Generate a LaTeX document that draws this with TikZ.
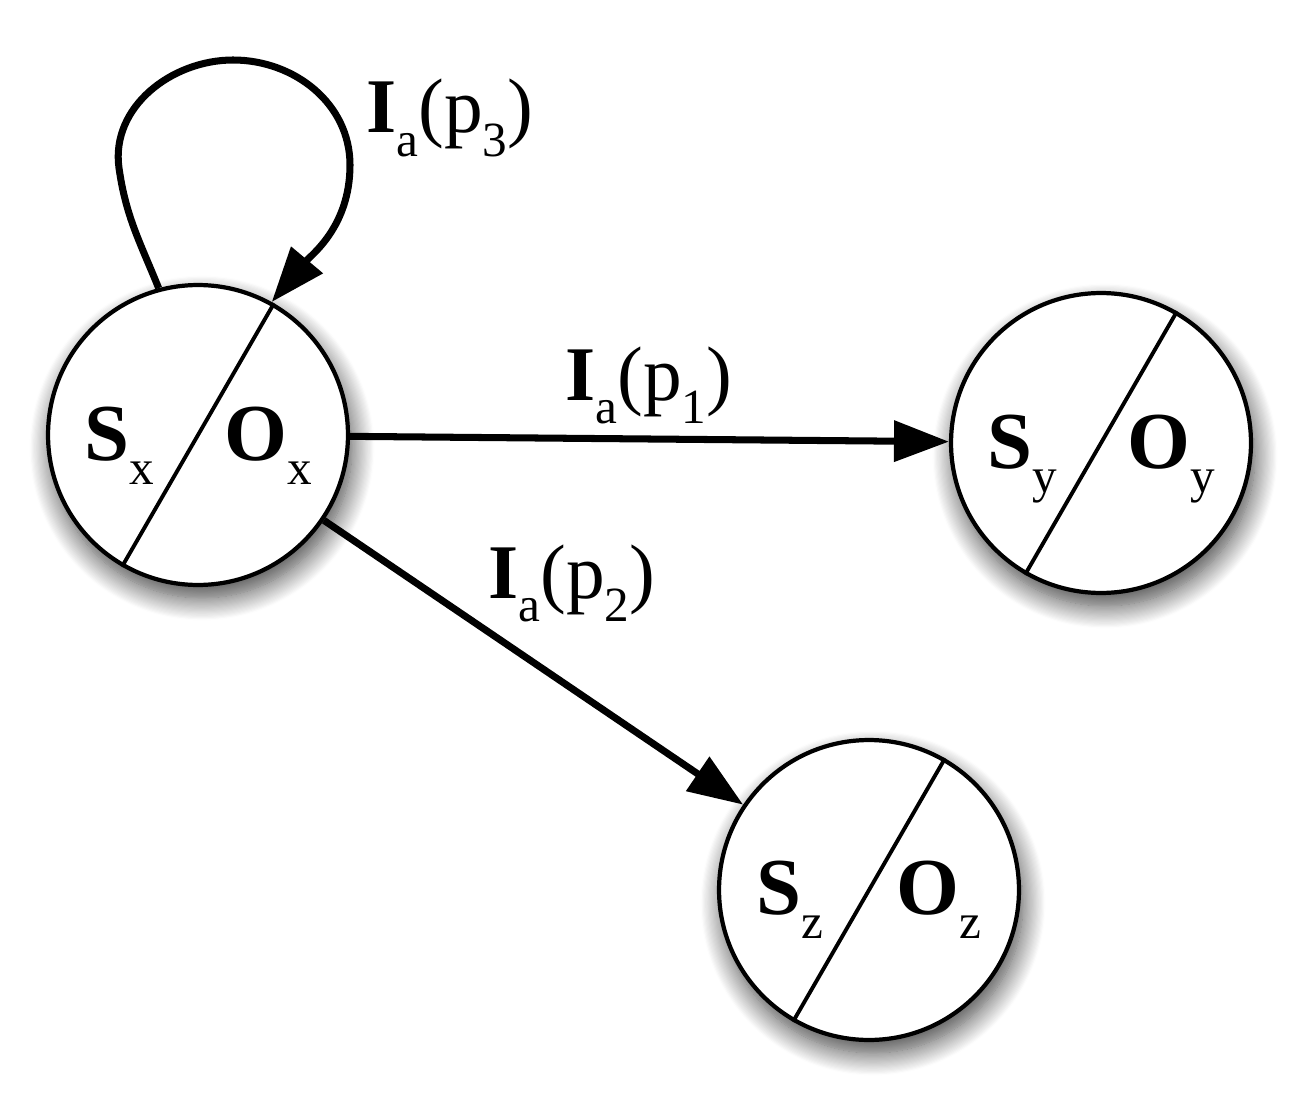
\documentclass[tikz,border=0pt]{standalone}
\usepackage{fontspec}
\setmainfont{Liberation Serif}
\usetikzlibrary{arrows.meta,shadows.blur}
\newcommand{\mysub}[1]{\raisebox{-0.3em}{\fontsize{28}{28}\selectfont #1}}
\begin{document}
\begin{tikzpicture}[x=0.02cm,y=0.02cm,
  state/.style={circle, draw, line width=2.4pt, fill=white, minimum size=6.0cm, inner sep=0pt,
    blur shadow={shadow xshift=0.08cm, shadow yshift=-0.26cm, shadow blur radius=0.45cm, shadow blur steps=20, shadow opacity=75}},
  divider/.style={line width=2.2pt},
  lab/.style={anchor=base, inner sep=0pt, font=\fontsize{44}{44}\selectfont},
  slab/.style={anchor=base, inner sep=0pt, font=\fontsize{46}{46}\selectfont},
  edge/.style={line width=4pt, -{Triangle[length=1.1cm,width=0.8cm]}}]
\useasboundingbox (0,0) rectangle (1300,-1104);

\node[state] (X) at (198,-435) {};
\node[state] (Y) at (1101,-443) {};
\node[state] (Z) at (869,-890) {};

\draw[divider] (X.60) -- (X.240);
\draw[divider] (Y.60) -- (Y.240);
\draw[divider] (Z.60) -- (Z.240);

\node[slab] (sx) at ([shift={(-79,-25)}]X.center) {{\bfseries S}\mysub{x}};
\node[slab] (ox) at ([shift={(70,-25)}]X.center) {{\bfseries O}\mysub{x}};
\node[slab] (sy) at ([shift={(-79,-25)}]Y.center) {{\bfseries S}\mysub{y}};
\node[slab] (oy) at ([shift={(70,-25)}]Y.center) {{\bfseries O}\mysub{y}};
\node[slab] (sz) at ([shift={(-79,-24)}]Z.center) {{\bfseries S}\mysub{z}};
\node[slab] (oz) at ([shift={(70,-24)}]Z.center) {{\bfseries O}\mysub{z}};

\draw[edge] (X) -- (Y);
\draw[edge] (X) -- (Z);
\draw[edge] (X.105) to[out=112,in=-82] (119,-168) to[out=98,in=180] (233,-60)
  to[out=0,in=90] (350,-165) to[out=-90,in=50] (X.61);

\node[lab] (l1) at (649,-400) {{\bfseries I}\mysub{a}(p\mysub{1})};
\node[lab] (l2) at (572,-598) {{\bfseries I}\mysub{a}(p\mysub{2})};
\node[lab] (l3) at (450,-133) {{\bfseries I}\mysub{a}(p\mysub{3})};
\end{tikzpicture}
\end{document}
